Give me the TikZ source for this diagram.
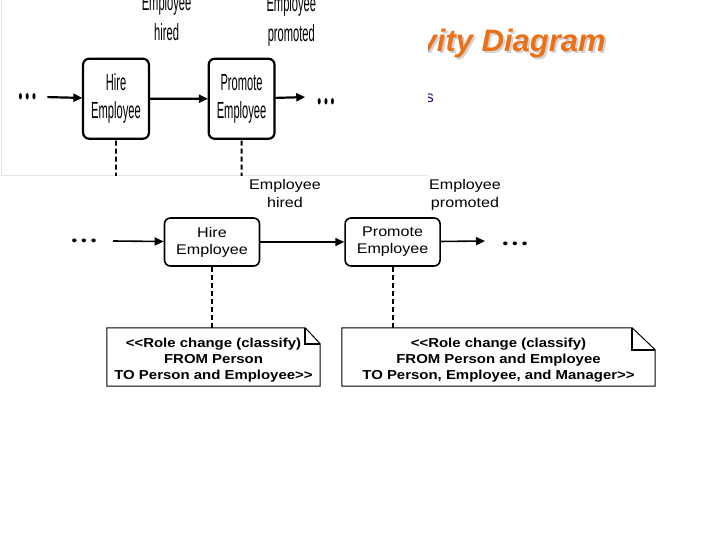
\documentclass[tikz,border=0pt]{standalone}
\usepackage{fontspec}
\usepackage{tikz}
\usetikzlibrary{arrows.meta,positioning,calc}
\newfontfamily\diagfont[FakeStretch=1.15]{Liberation Sans}
\newfontfamily\titlefont{Liberation Sans}
\definecolor{titleorange}{RGB}{236,112,22}
\definecolor{bulletblue}{RGB}{20,20,150}
\newcommand{\threedots}{\textbullet\hspace{4pt}\textbullet\hspace{4pt}\textbullet}
% one row of the activity flow, #1 is a prefix for the node names
\newcommand{\rolerow}[1]{%
  \node[actbox] (#1hire) at (212,242) {Hire\\Employee};
  \node[actbox,right=84pt of #1hire] (#1promote) {Promote\\Employee};
  \node[ellip] (#1indots) at (84,242) {\threedots};
  \node[ellip] (#1outdots) at (515,245) {\threedots};
  \coordinate (#1instart) at (113,241);
  \coordinate (#1outend) at (485,241);
  \node[evlabel] (#1hired) at (285,193) {Employee\\hired};
  \node[evlabel] (#1promoted) at (465,195) {Employee\\promoted};
  \draw[flow] (#1instart) -- (#1hire);
  \draw[flow] (#1hire) -- (#1promote);
  \draw[flow] (#1promote) -- (#1outend);
}

\begin{document}
\begin{tikzpicture}[x=1pt,y=-1pt,
  actbox/.style={draw,line width=1.6pt,rounded corners=6pt,minimum width=95pt,minimum height=48pt,
    align=center,inner sep=2pt,font=\diagfont\fontsize{14}{17}\selectfont},
  evlabel/.style={align=center,inner sep=0pt,font=\diagfont\fontsize{14}{18}\selectfont},
  ellip/.style={inner sep=1pt,font=\diagfont\fontsize{14}{14}\selectfont},
  flow/.style={line width=1.6pt,-{Triangle[length=9pt,width=8pt]}},
  link/.style={line width=1.8pt,dash pattern=on 5pt off 3pt},
  notebox/.style={minimum height=58pt,inner sep=0pt},
  notetext/.style={align=center,inner sep=0pt,font=\diagfont\bfseries\fontsize{13}{16}\selectfont},
  noteline/.style={line width=1pt,line join=miter},
  fold/.style={line width=1.6pt},
  titletext/.style={inner sep=0pt,font=\titlefont\bfseries\itshape\fontsize{31}{31}\selectfont}]
  \useasboundingbox[fill=white] (0,0) rectangle (720,540);

  % slide title and bullet, mostly hidden behind the pasted picture
  \node[titletext,text=gray!35,anchor=base east] (titleshadow) at (608,54) {Activity Diagram};
  \node[titletext,text=titleorange,anchor=base east] (title) at (606,52) {Activity Diagram};
  \node[anchor=base east,inner sep=0pt,text=bulletblue,font=\titlefont\fontsize{16}{16}\selectfont]
    (bullettail) at (434,103) {s};

  % pasted, stretched copy of the upper row
  \begin{scope}
    \clip (0,0) rectangle (428,176);
    \fill[white] (0,0) rectangle (428,176);
    \draw[gray!20,line width=0.8pt] (1,0) -- (1,175) -- (428,175);
    \begin{scope}[shift={(-30.9,-304.7)},xscale=0.693,yscale=1.667,transform shape,
      actbox/.append style={line width=2.2pt},flow/.append style={line width=2.2pt}]
      \rolerow{old}
      \coordinate (oldhirenote) at (212,328);
      \coordinate (oldpromotenote) at (392,328);
      \draw[link] (oldhire) -- (oldhire |- oldhirenote);
      \draw[link] (oldpromote) -- (oldpromote |- oldpromotenote);
    \end{scope}
  \end{scope}

  % the diagram itself
  \rolerow{}
  \node[notebox,minimum width=213pt] (hirenote) at (213.5,357) {};
  \node[notetext] (hiretext) at ([yshift=-3pt]hirenote.center)
    {<<Role change (classify)\\FROM Person\\TO Person and Employee>>};
  \node[notebox,minimum width=313pt] (promotenote) at (498.5,357) {};
  \node[notetext] (promotetext) at ([yshift=-3pt]promotenote.center)
    {<<Role change (classify)\\FROM Person and Employee\\TO Person, Employee, and Manager>>};
  \draw[noteline] (hirenote.north west) -- ([xshift=-15pt]hirenote.north east)
    -- ([yshift=-16pt]hirenote.north east) -- (hirenote.south east) -- (hirenote.south west) -- cycle;
  \draw[fold] ([xshift=-15pt]hirenote.north east) -- ([xshift=-15pt,yshift=-16pt]hirenote.north east)
    -- ([yshift=-16pt]hirenote.north east);
  \draw[noteline] (promotenote.north west) -- ([xshift=-23pt]promotenote.north east)
    -- ([yshift=-22pt]promotenote.north east) -- (promotenote.south east) -- (promotenote.south west) -- cycle;
  \draw[fold] ([xshift=-23pt]promotenote.north east) -- ([xshift=-23pt,yshift=-22pt]promotenote.north east)
    -- ([yshift=-22pt]promotenote.north east);
  \draw[link] (hire) -- (hire |- hirenote.north);
  \draw[link] (promote) -- (promote |- promotenote.north);
\end{tikzpicture}
\end{document}
